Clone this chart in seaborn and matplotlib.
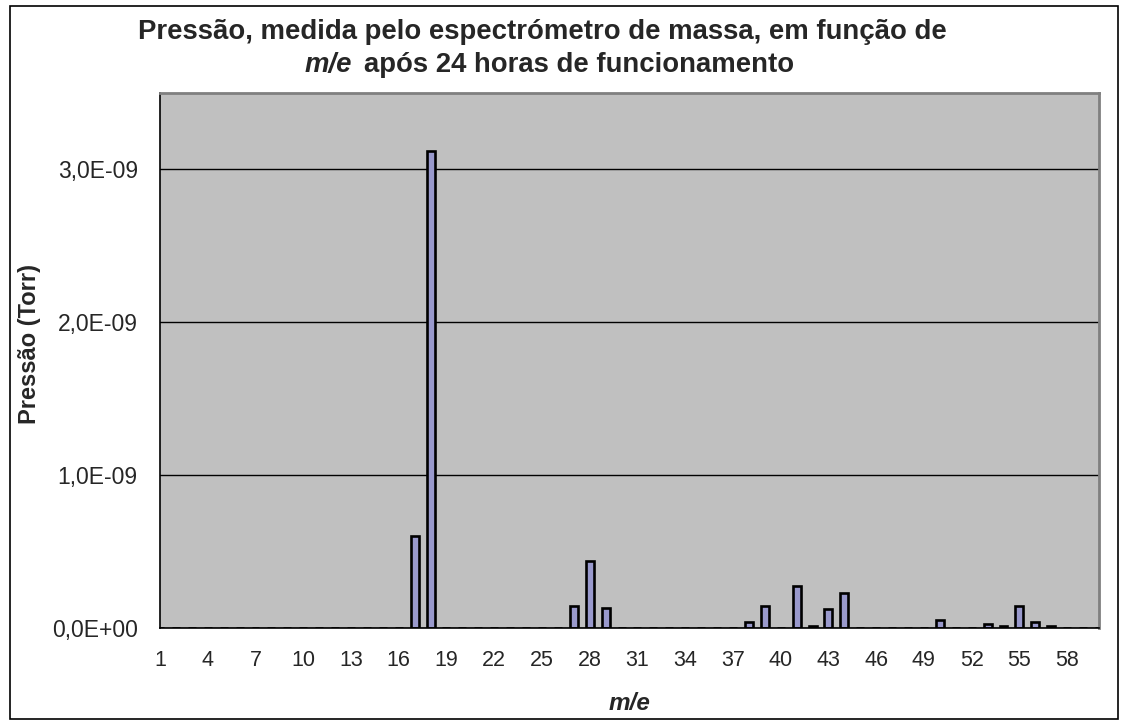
import numpy as np
import pandas as pd
import matplotlib
matplotlib.use('Agg')
import matplotlib.pyplot as plt
import matplotlib.ticker as mticker
from matplotlib.patches import Rectangle
import seaborn as sns

# m/e 1..60 and pressure (Torr)
me = list(range(1, 61))
pressao = [
    0, 0, 0, 0, 0, 0, 0, 0, 0, 0,                      # 1-10
    0, 0, 0, 0, 0, 0, 6.0e-10, 3.12e-9, 0, 0,          # 11-20
    0, 0, 0, 0, 0, 0, 1.45e-10, 4.4e-10, 1.3e-10, 0,   # 21-30
    0, 0, 0, 0, 0, 0, 0, 0.37e-10, 1.46e-10, 0,        # 31-40
    2.78e-10, 0.14e-10, 1.22e-10, 2.28e-10, 0, 0, 0, 0, 0, 0.5e-10,  # 41-50
    0, 0, 0.27e-10, 0.14e-10, 1.46e-10, 0.37e-10, 0.14e-10, 0, 0, 0,  # 51-60
]
tick_labels = [str(v) if (v - 1) % 3 == 0 else '' for v in me]
y_major = [0, 1e-9, 2e-9, 3e-9]
y_minor = [0.5e-9, 1.5e-9, 2.5e-9, 3.5e-9]

df = pd.DataFrame({'me': [str(v) for v in me], 'pressao': pressao})

sns.set_style('white')
plt.rcParams['font.family'] = ['Liberation Sans', 'DejaVu Sans']

W, H = 1121, 720
fig = plt.figure(figsize=(W / 100, H / 100), dpi=100)
ax = fig.add_axes([160 / W, 1 - 628 / H, (1099 - 160) / W, (628 - 93) / H])
ax.set_facecolor('#C0C0C0')

sns.barplot(data=df, x='me', y='pressao', order=df['me'], color='#9999CC',
            edgecolor='black', linewidth=1.9, width=0.5, saturation=1, ax=ax)

ax.set_xlim(0, 59)
ax.set_ylim(0, 3.5e-9)

ax.set_xticks(range(len(me)))
ax.set_xticklabels(tick_labels, fontsize=15.5)
ax.tick_params(axis='x', direction='out', length=7, width=1, color='black', pad=9)

ax.set_yticks(y_major)
ax.set_yticks(y_minor, minor=True)
ax.set_yticklabels([f'{v:.1E}'.replace('.', ',') for v in y_major])
ax.tick_params(axis='y', which='major', direction='out', length=8, width=1, labelsize=16.5, pad=8)
ax.tick_params(axis='y', which='minor', direction='in', length=5, width=1)

ax.grid(axis='y', which='major', color='black', linewidth=1)
ax.set_axisbelow(True)

for s in ['left', 'bottom']:
    ax.spines[s].set_color('black')
    ax.spines[s].set_linewidth(1.2)
for s in ['top', 'right']:
    ax.spines[s].set_color('#808080')
    ax.spines[s].set_linewidth(2)
    ax.spines[s].set_visible(True)

# axis titles
ax.set_xlabel('m/e', fontsize=17.5, fontweight='bold', fontstyle='italic')
ax.xaxis.set_label_coords(0.5, (628 - 704) / 535, transform=ax.transAxes)
ax.xaxis.label.set_va('center')
ax.set_ylabel('Pressão (Torr)', fontsize=17, fontweight='bold')
ax.yaxis.set_label_coords((30 - 160) / 939, (628 - 344) / 535, transform=ax.transAxes)
ax.yaxis.label.set_va('center')

# chart title (two lines, second begins with italic m/e)
fig.text(542 / W, 1 - 39 / H, 'Pressão, medida pelo espectrómetro de massa, em função de',
         ha='center', va='baseline', fontsize=19.8, fontweight='bold')
y2 = 1 - 72 / H
t1 = fig.text(305 / W, y2, 'm/e', ha='left', va='baseline',
              fontsize=19.8, fontweight='bold', fontstyle='italic')
fig.canvas.draw()
bb = t1.get_window_extent(renderer=fig.canvas.get_renderer())
fig.text((bb.x1 + 12) / W, y2, 'após 24 horas de funcionamento', ha='left', va='baseline',
         fontsize=19.8, fontweight='bold')

# outer chart frame
fig.add_artist(Rectangle((10 / W, 1.5 / H), (1118 - 10) / W, (714 - 1.5) / H,
                         transform=fig.transFigure, fill=False, edgecolor='black', linewidth=1.2))

fig.savefig('out.png', dpi=100)
